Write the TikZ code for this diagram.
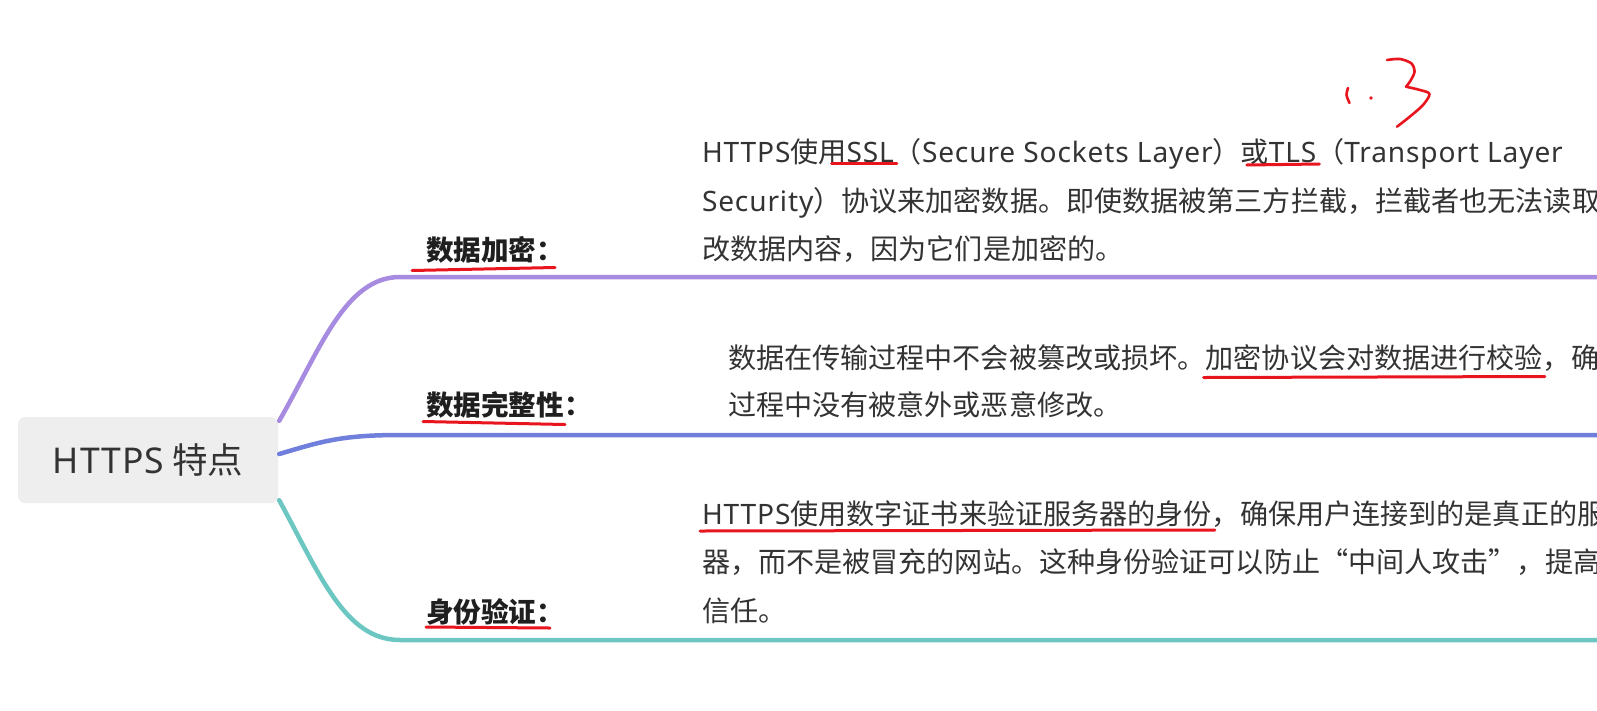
\documentclass[tikz,border=0pt]{standalone}
\usepackage{fontspec}
\setmainfont{Noto Sans CJK SC}
\newfontfamily\latfont[LetterSpace=3]{Noto Sans}
\newcommand\latn[1]{{\latfont #1}}
\usetikzlibrary{calc}
\definecolor{cpurple}{HTML}{A68BE0}
\definecolor{cblue}{HTML}{6F7FDB}
\definecolor{cteal}{HTML}{6CC6C1}
\definecolor{cred}{HTML}{E8141E}
\definecolor{ctext}{HTML}{333333}
\definecolor{cbox}{HTML}{EEEEEE}
\tikzset{
  txt/.style={anchor=base west, inner sep=0pt, outer sep=0pt, text=ctext, font=\fontsize{28.1}{32}\selectfont},
  lbl/.style={anchor=base west, inner sep=0pt, outer sep=0pt, text=black!88, font=\fontsize{27.6}{32}\selectfont\bfseries},
  rootbox/.style={fill=cbox, rounded corners=7pt, minimum width=260pt, minimum height=86pt, inner sep=0pt, text=ctext, font=\fontsize{35.5}{40}\selectfont},
  branch/.style={line width=4.5pt, line cap=round},
  ink/.style={draw=cred, line width=3pt, line cap=round, line join=round},
}
\begin{document}
\begin{tikzpicture}[x=1pt,y=-1pt]
\useasboundingbox (0,0) rectangle (1597,710);
\fill[white] (0,0) rectangle (1597,710);
\clip (0,0) rectangle (1597,710);

% root
\node[rootbox] (root) at (148,460) {\latn{HTTPS} 特点};

% branch ends
\coordinate (e1) at (1610,277);
\coordinate (e2) at (1610,435);
\coordinate (e3) at (1610,640);

\draw[branch, cpurple] ($(root.north east)+(1,4)$) .. controls (320,350) and (345,277) .. (400,277) -- (e1);
\draw[branch, cblue] ($(root.east)+(1,-6)$) .. controls (320,442) and (340,435) .. (400,435) -- (e2);
\draw[branch, cteal] ($(root.south east)+(1,-3)$) .. controls (320,575) and (345,640) .. (400,640) -- (e3);

% labels
\node[lbl] (lab1) at (426,260.5) {数据加密：};
\node[lbl] (lab2) at (426,415.5) {数据完整性：};
\node[lbl] (lab3) at (426,622) {身份验证：};

% block 1
\node[txt] (t1a) at (702,162) {\latn{HTTPS}使用};
\node[txt] (ssl) at (t1a.base east) {\latn{SSL}};
\node[txt] (t1b) at (ssl.base east) {（\latn{Secure Sockets Layer}）或};
\node[txt] (tls) at (t1b.base east) {\latn{TLS}};
\node[txt] (t1c) at (tls.base east) {（\latn{Transport Layer}};
\node[txt] (t1d) at (702,211) {\latn{Security}）协议来加密数据。即使数据被第三方拦截，拦截者也无法读取};
\node[txt] (t1e) at (702,259.5) {改数据内容，因为它们是加密的。};

% block 2
\node[txt] (t2a) at (728,368.5) {数据在传输过程中不会被篡改或损坏。};
\node[txt] (chk) at (t2a.base east) {加密协议会对数据进行校验};
\node[txt] (t2b) at (chk.base east) {，确};
\node[txt] (t2c) at (728,415.5) {过程中没有被意外或恶意修改。};

% block 3
\node[txt] (cert) at (702,524) {\latn{HTTPS}使用数字证书来验证服务器的身份};
\node[txt] (t3a) at (cert.base east) {，确保用户连接到的是真正的服};
\node[txt] (t3b) at (702,572.5) {器，而不是被冒充的网站。这种身份验证可以防止“中间人攻击”，提高};
\node[txt] (t3c) at (702,621) {信任。};

% red hand-drawn underlines
\draw[ink] ($(lab1.base west)+(-14,10)$) -- ($(lab1.base west)+(129,7)$);
\draw[ink] ($(lab2.base west)+(-3,6)$) -- ($(lab2.base west)+(139,9)$);
\draw[ink] ($(lab3.base west)+(0,5)$) -- ($(lab3.base west)+(124,6)$);
\draw[ink] ($(ssl.base west)+(-15,1)$) -- ($(ssl.base east)+(3,1)$);
\draw[ink] ($(tls.base west)+(-22,3)$) -- ($(tls.base east)+(3,2)$);
\draw[ink] ($(chk.base west)+(-2,9)$) -- ($(chk.base east)+(2,8)$);
\draw[ink] ($(cert.base west)+(-2,7)$) -- ($(cert.base east)+(3,6)$);

% handwritten "1.3"
\draw[ink, line width=2.6pt] plot[smooth] coordinates {(1348,88) (1346.5,95) (1349.5,103)};
\fill[cred] (1371,98) circle (1.8);
\draw[ink, line width=2.6pt] plot[smooth] coordinates {(1387,60) (1400,59) (1411.5,63.5) (1414.5,72) (1410,81.5) (1406,86.7)};
\draw[ink, line width=2.6pt] plot[smooth] coordinates {(1406,86.7) (1420,90) (1429.5,94) (1423,105) (1410,116.5) (1397,126.7)};
\end{tikzpicture}
\end{document}
